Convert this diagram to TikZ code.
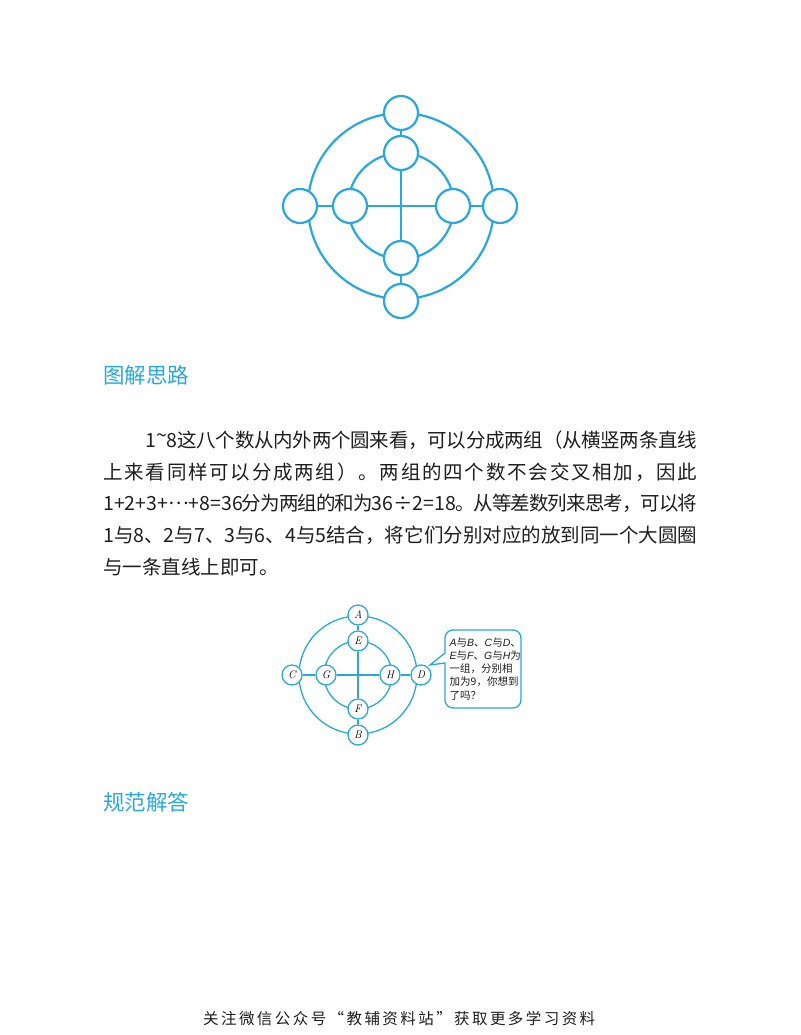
\documentclass[tikz,border=0pt]{standalone}
\usepackage{fontspec}
\newfontfamily\cjk{Noto Sans CJK SC}
\newfontfamily\bubsans{Liberation Sans}
\definecolor{linecol}{RGB}{41,168,224}
\definecolor{textcol}{RGB}{30,30,30}
\def\spreadline#1{#1\spreadnext}
\def\spreadnext#1{\ifx\relax#1\else\hskip 0pt plus 1fil minus 2pt\relax #1\expandafter\spreadnext\fi}
\newcommand\bubl[1]{{\bubsans\itshape #1}}
\tikzset{
    ring/.style={draw=linecol, line width=2.2pt},
    bignode/.style={circle, draw=linecol, fill=white, line width=2.2pt, minimum size=34pt, inner sep=0pt},
    smallring/.style={draw=linecol, line width=1.3pt},
    smallnode/.style={circle, draw=linecol, fill=white, line width=1.3pt, minimum size=20pt, inner sep=0pt, font=\fontsize{11}{11}\selectfont\itshape},
    heading/.style={anchor=base west, inner sep=0pt, text=linecol, font=\fontsize{21.5}{21.5}\selectfont\cjk},
    bodyline/.style={anchor=base west, inner sep=0pt, text=textcol, font=\fontsize{19.5}{19.5}\selectfont\cjk},
    bubble/.style={draw=linecol, line width=1.3pt, fill=white}
}
\begin{document}
\begin{tikzpicture}[x=1pt, y=-1pt]
        \useasboundingbox (0,0) rectangle (800,1035);
        \coordinate (o1) at (401,206);
        \draw[ring] (o1) circle[radius=93];
        \draw[ring] (o1) circle[radius=53];
        \node[bignode] (ot) at (401,113) {};
        \node[bignode] (ob) at (401,301) {};
        \node[bignode] (ol) at (300,206) {};
        \node[bignode] (or) at (500,206) {};
        \node[bignode] (it) at (401,153) {};
        \node[bignode] (ib) at (401,258) {};
        \node[bignode] (il) at (350,206) {};
        \node[bignode] (ir) at (453,206) {};
        \draw[ring] (ot) -- (it) (it) -- (ib) (ib) -- (ob);
        \draw[ring] (ol) -- (il) (il) -- (ir) (ir) -- (or);

        \node[heading] (head1) at (103,383) {图解思路};
        \node[bodyline] (line1) at (145,447.5) {\makebox[552pt][s]{\spreadline{1\raisebox{.25em}{\string~}8}这八个数从内外两个圆来看，可以分成两组（从横竖两条直线\relax}};
        \node[bodyline] (line2) at (103,479) {\makebox[594pt][s]{\spreadline{上}来看同样可以分成两组）。两组的四个数不会交叉相加，因此\relax}};
        \node[bodyline] (line3) at (103,510.5) {\makebox[594pt][s]{\spreadline{1+2+3+\raisebox{.3em}{…}+8=36}分为两组的和为{36÷2=18}。从等差数列来思考，可以将\relax}};
        \node[bodyline] (line4) at (103,542) {\makebox[594pt][s]{\spreadline{1}与8、2与7、3与6、4与5结合，将它们分别对应的放到同一个大圆圈\relax}};
        \node[bodyline] (line5) at (103,574) {与一条直线上即可。};

        \coordinate (o2) at (358,675);
        \draw[smallring] (o2) circle[radius=59];
        \draw[smallring] (o2) circle[radius=34];
        \node[smallnode] (a) at (358,615) {A};
        \node[smallnode] (b) at (358,735) {B};
        \node[smallnode] (c) at (292,675) {C};
        \node[smallnode] (d) at (421,675) {D};
        \node[smallnode] (e) at (358,641) {E};
        \node[smallnode] (f) at (358,709) {F};
        \node[smallnode] (g) at (326,675) {G};
        \node[smallnode] (h) at (390,675) {H};
        \draw[smallring] (a) -- (e) (e) -- (f) (f) -- (b);
        \draw[smallring] (c) -- (g) (g) -- (h) (h) -- (d);
        \draw[bubble] (445,653) [rounded corners=8pt] -- (445,630) -- (521,630) -- (521,708) -- (445,708) -- (445,690) [sharp corners] -- (445,663) -- (430,665) -- cycle;
        \node[anchor=north west, inner sep=0pt, align=left, text=textcol, font=\fontsize{10.5}{13.2}\selectfont\cjk] (tip) at (449.5,637.5) {\bubl{A}与\bubl{B}、\bubl{C}与\bubl{D}、\\\bubl{E}与\bubl{F}、\bubl{G}与\bubl{H}为\\一组，分别相\\加为9，你想到\\了吗？};

        \node[heading] (head2) at (103,810) {规范解答};
        \node[anchor=base west, inner sep=0pt, text=textcol, font=\fontsize{15.5}{15.5}\selectfont\cjk] (foot) at (203,1024) {\makebox[392pt][s]{\spreadline{关}注微信公众号“教辅资料站”获取更多学习资料\relax}};
    \end{tikzpicture}
\end{document}
